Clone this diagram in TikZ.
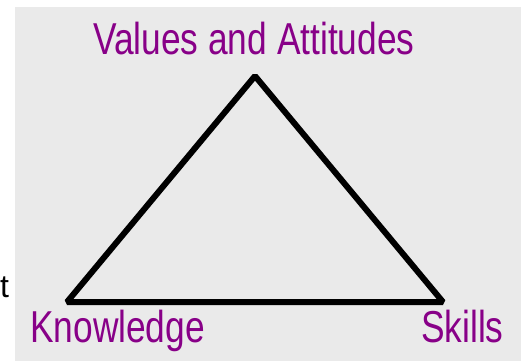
\documentclass[tikz,border=0pt]{standalone}
\usepackage{fontspec}
\usepackage{xcolor}
\usepackage{tikz}
\newfontfamily\narrowfont[FakeStretch=0.79]{Liberation Sans}
\newfontfamily\plainfont{Liberation Sans}
\definecolor{labelpurple}{RGB}{136,0,136}
\definecolor{panelgray}{RGB}{234,234,234}

\begin{document}
\begin{tikzpicture}[
    x=1pt, y=-1pt,
    label/.style={anchor=base west, inner sep=0pt, text=labelpurple, font=\narrowfont\fontsize{44.7}{50}\selectfont},
    side/.style={line width=6pt, line join=bevel, line cap=round}
]
\useasboundingbox (0,0) rectangle (521,361);
\fill[white] (0,0) rectangle (521,361);

% Background panel
\fill[panelgray] (15,7) rectangle (521,361);

% Corners of the triangle
\coordinate (top) at (255,76);
\coordinate (left) at (67,302);
\coordinate (right) at (443,302);

% Labels
\node[label] (values) at (93,55) {Values and Attitudes};
\node[label] (knowledge) at (30,342) {Knowledge};
\node[label] (skills) at (421,342) {Skills};

% Stray text at the left margin
\node[anchor=base west, inner sep=0pt, font=\plainfont\fontsize{32}{36}\selectfont] (stray) at (0,297) {t};

% Triangle
\draw[side] (left) -- (top) -- (right) -- cycle;

\end{tikzpicture}
\end{document}
